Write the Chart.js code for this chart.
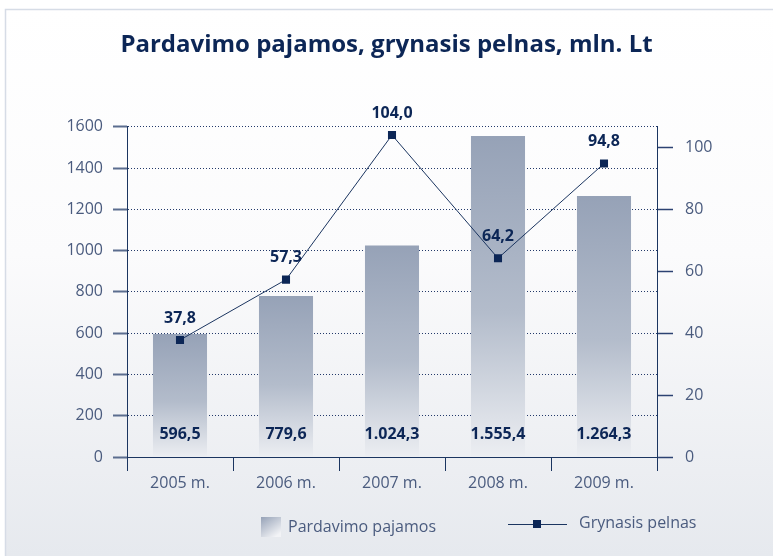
<!DOCTYPE html>
<html>
<head>
<meta charset="utf-8">
<script src="https://cdn.jsdelivr.net/npm/chart.js@4/dist/chart.umd.min.js"></script>
<style>
    body { margin: 0; background: #fff; }
    canvas { display: block; }
</style>
</head>
<body>
<canvas id="grafikas" width="773" height="556"></canvas>
<script>
const metai = ["2005 m.", "2006 m.", "2007 m.", "2008 m.", "2009 m."];
const pajamos = [596.5, 779.6, 1024.3, 1555.4, 1264.3];
const pelnas = [37.8, 57.3, 104.0, 64.2, 94.8];

const navy = "#0c2656";
const tekstas = "#4a5b7e";

function skaicius(v) {
    const dalys = v.toFixed(1).split(".");
    const sveika = dalys[0].replace(/\B(?=(\d{3})+(?!\d))/g, ".");
    return sveika + "," + dalys[1];
}

function stulpelioSpalva(context) {
    const chart = context.chart;
    if (!chart.chartArea || context.raw == null) return "#9aa6ba";
    const y = chart.scales.y;
    const virsus = y.getPixelForValue(context.raw);
    const apacia = y.getPixelForValue(0);
    const g = chart.ctx.createLinearGradient(0, virsus, 0, apacia);
    g.addColorStop(0, "#96a2b7");
    g.addColorStop(0.55, "#b3bccb");
    g.addColorStop(1, "#eceef2");
    return g;
}

const fonas = {
    id: "fonas",
    beforeDraw(chart) {
        const ctx = chart.ctx;
        ctx.save();
        const g = ctx.createLinearGradient(0, 9, 0, 556);
        g.addColorStop(0, "#ffffff");
        g.addColorStop(0.45, "#fbfbfc");
        g.addColorStop(1, "#e6e9ee");
        ctx.fillStyle = g;
        ctx.fillRect(5, 9, 768, 547);
        ctx.strokeStyle = "#d6dce6";
        ctx.lineWidth = 1.5;
        ctx.beginPath();
        ctx.moveTo(5.5, 556);
        ctx.lineTo(5.5, 9.5);
        ctx.lineTo(773, 9.5);
        ctx.stroke();
        ctx.restore();
    }
};

const reiksmes = {
    id: "reiksmes",
    afterDatasetsDraw(chart) {
        const ctx = chart.ctx;
        ctx.save();
        ctx.font = "bold 16px 'Open Sans'";
        ctx.fillStyle = navy;
        ctx.textAlign = "center";
        ctx.textBaseline = "middle";
        const stulpeliai = chart.getDatasetMeta(0).data;
        stulpeliai.forEach((el, i) => {
            ctx.fillText(skaicius(pajamos[i]), el.x, chart.chartArea.bottom - 23);
        });
        const taskai = chart.getDatasetMeta(1).data;
        taskai.forEach((el, i) => {
            ctx.fillText(skaicius(pelnas[i]), el.x, el.y - 22);
        });
        ctx.restore();
    }
};

const legenda = {
    id: "legenda",
    afterDraw(chart) {
        const ctx = chart.ctx;
        ctx.save();
        const g = ctx.createLinearGradient(261, 517, 275, 537);
        g.addColorStop(0, "#96a2b7");
        g.addColorStop(1, "#f2f3f6");
        ctx.fillStyle = g;
        ctx.fillRect(261, 517, 20, 20);
        ctx.font = "16px 'Open Sans'";
        ctx.fillStyle = tekstas;
        ctx.textBaseline = "middle";
        ctx.fillText("Pardavimo pajamos", 288, 527);
        ctx.strokeStyle = "#1b3560";
        ctx.lineWidth = 1;
        ctx.beginPath();
        ctx.moveTo(508, 524.5);
        ctx.lineTo(567, 524.5);
        ctx.stroke();
        ctx.fillStyle = navy;
        ctx.fillRect(533, 520, 8, 8);
        ctx.fillStyle = tekstas;
        ctx.fillText("Grynasis pelnas", 579, 523);
        ctx.restore();
    }
};

const ctx = document.getElementById("grafikas").getContext("2d");
new Chart(ctx, {
    type: "bar",
    data: {
        labels: metai,
        datasets: [
            {
                label: "Pardavimo pajamos",
                data: pajamos,
                backgroundColor: stulpelioSpalva,
                borderWidth: 0,
                barPercentage: 0.51,
                categoryPercentage: 1,
                yAxisID: "y",
                order: 1
            },
            {
                type: "line",
                label: "Grynasis pelnas",
                data: pelnas,
                borderColor: "#1b3560",
                borderWidth: 1,
                pointStyle: "rect",
                pointRadius: 5.7,
                pointBackgroundColor: navy,
                pointBorderWidth: 0,
                yAxisID: "y1",
                order: 0
            }
        ]
    },
    options: {
        responsive: false,
        animation: false,
        layout: { padding: { top: 0, bottom: 0, left: 0, right: 0 } },
        plugins: {
            legend: { display: false },
            tooltip: { enabled: false },
            title: {
                display: true,
                text: "Pardavimo pajamos, grynasis pelnas, mln. Lt",
                color: navy,
                font: { family: "'Open Sans'", size: 24, weight: "bold" },
                padding: { top: 31, bottom: 67 }
            }
        },
        scales: {
            x: {
                afterFit: s => { s.height = 99; },
                grid: {
                    offset: true,
                    drawOnChartArea: false,
                    tickLength: 14,
                    color: "#1b3560"
                },
                border: { color: "#1b3560", width: 1 },
                ticks: {
                    color: tekstas,
                    font: { family: "'Open Sans'", size: 16 },
                    padding: 3
                }
            },
            y: {
                position: "left",
                min: 0,
                max: 1600,
                afterFit: s => { s.width = 127; },
                ticks: {
                    stepSize: 200,
                    color: tekstas,
                    font: { family: "'Open Sans'", size: 16 },
                    padding: 10,
                    callback: v => String(v)
                },
                grid: {
                    color: "#23396a",
                    lineWidth: 1,
                    tickLength: 14,
                    tickColor: "#5b6d8f",
                    tickWidth: 2
                },
                border: { color: "#1b3560", width: 1, dash: [1, 2] }
            },
            y1: {
                position: "right",
                min: 0,
                max: 1600 / 15,
                afterFit: s => { s.width = 116; },
                afterBuildTicks: s => { s.ticks = s.ticks.filter(t => t.value % 20 === 0); },
                ticks: {
                    stepSize: 20,
                    color: tekstas,
                    font: { family: "'Open Sans'", size: 16 },
                    padding: 12,
                    callback: v => String(v)
                },
                grid: {
                    drawOnChartArea: false,
                    tickLength: 16,
                    tickColor: "#2c4272",
                    tickWidth: 1.5
                },
                border: { color: "#1b3560", width: 1 }
            }
        }
    },
    plugins: [fonas, reiksmes, legenda]
});
</script>
</body>
</html>
